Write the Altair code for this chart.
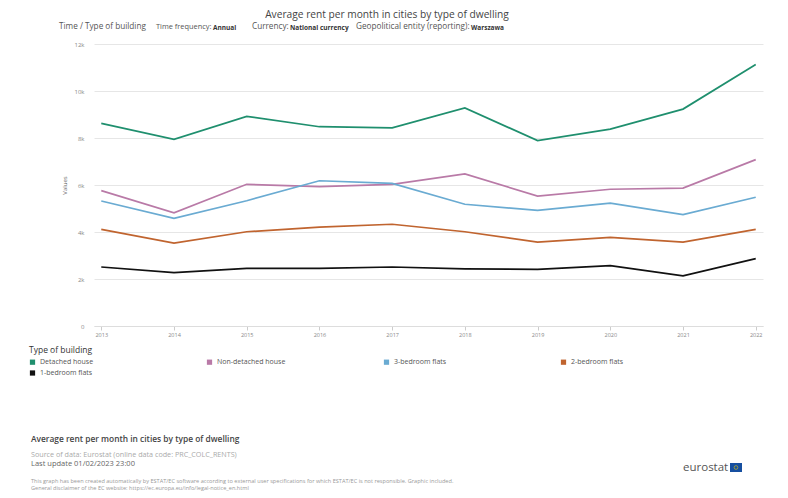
import altair as alt
import pandas as pd

years = ["2013", "2014", "2015", "2016", "2017", "2018", "2019", "2020", "2021", "2022"]
series_names = ["Detached house", "Non-detached house", "3-bedroom flats", "2-bedroom flats", "1-bedroom flats"]
series_colors = ["#1f8f6e", "#b97aa7", "#6aabd2", "#c0642f", "#111111"]
detached = [8620, 7940, 8920, 8480, 8430, 9280, 7890, 8380, 9230, 11130]
non_detached = [5760, 4820, 6030, 5930, 6030, 6470, 5530, 5820, 5870, 7080]
three_bed = [5320, 4580, 5330, 6180, 6070, 5180, 4920, 5230, 4740, 5480]
two_bed = [4110, 3530, 4010, 4210, 4330, 4010, 3570, 3770, 3570, 4110]
one_bed = [2510, 2270, 2450, 2450, 2510, 2430, 2410, 2570, 2130, 2870]
y_ticks = [0, 2000, 4000, 6000, 8000, 10000, 12000]

title_text = "Average rent per month in cities by type of dwelling"
subtitle_parts = [
    "Time / Type of building",
    "Time frequency:",
    "Annual",
    "Currency:",
    "National currency",
    "Geopolitical entity (reporting):",
    "Warszawa",
]
footer_title = "Average rent per month in cities by type of dwelling"
footer_source = "Source of data: Eurostat (online data code: PRC_COLC_RENTS)"
footer_update = "Last update 01/02/2023 23:00"
footer_disc1 = ("This graph has been created automatically by ESTAT/EC software according to external user "
                "specifications for which ESTAT/EC is not responsible. Graphic included.")
footer_disc2 = "General disclaimer of the EC website: https://ec.europa.eu/info/legal-notice_en.html"

rows = []
for name, vals in zip(series_names, [detached, non_detached, three_bed, two_bed, one_bed]):
    for yr, v in zip(years, vals):
        rows.append({"year": yr, "value": v, "series": name})
df = pd.DataFrame(rows)

FONT = "Open Sans"
PLOT_W, PLOT_H = 669, 282
OX, OY = 94, 44  # page position of plot origin
TOTAL_H = 483


def txt(text, px, py, size, color, weight="normal", align="left"):
    return alt.Chart(pd.DataFrame({"t": [text]})).mark_text(
        font=FONT, fontSize=size, color=color, fontWeight=weight,
        align=align, baseline="middle"
    ).encode(x=alt.value(px - OX), y=alt.value(py - OY), text="t:N")


lines = alt.Chart(df).mark_line(strokeWidth=1.7).encode(
    x=alt.X("year:O", sort=years,
            scale=alt.Scale(type="point", padding=0.1),
            axis=alt.Axis(title=None, labelAngle=0, labelFontSize=5.5, labelColor="#888",
                          labelFont=FONT, tickColor="#ccc", tickSize=4, domainColor="#ddd",
                          grid=False, labelPadding=2)),
    y=alt.Y("value:Q", scale=alt.Scale(domain=[0, 12000]),
            axis=alt.Axis(values=y_ticks, title="Values",
                          labelExpr="datum.value == 0 ? '0' : (datum.value / 1000) + 'k'",
                          labelFontSize=6, labelColor="#888", labelFont=FONT,
                          titleFont=FONT, titleFontSize=6, titleColor="#666",
                          titleFontWeight="normal", titleX=-27, titleY=141,
                          domain=False, ticks=False, gridColor="#e6e6e6",
                          labelPadding=10)),
    color=alt.Color("series:N", sort=series_names,
                    scale=alt.Scale(domain=series_names, range=series_colors),
                    legend=alt.Legend(orient="none", legendX=29 - OX, legendY=346 - OY,
                                      direction="horizontal",
                                      columns=4, gridAlign="all", columnPadding=93,
                                      rowPadding=-4, symbolType="square", symbolSize=5,
                                      symbolStrokeWidth=3, labelFontSize=7, labelColor="#555",
                                      labelFont=FONT, title="Type of building",
                                      titleFont=FONT, titleFontSize=8.5, titleColor="#333",
                                      titleFontWeight="normal", titlePadding=4,
                                      labelOffset=4)),
)

texts = [
    txt(title_text, 387, 14.5, 10.2, "#444", align="center"),
    txt(subtitle_parts[0], 59, 27, 8.2, "#555"),
    txt(subtitle_parts[1], 156, 27, 7.4, "#555"),
    txt(subtitle_parts[2], 213, 27.5, 6.5, "#333", "bold"),
    txt(subtitle_parts[3], 252, 27, 8.2, "#555"),
    txt(subtitle_parts[4], 290, 27.5, 6.5, "#333", "bold"),
    txt(subtitle_parts[5], 356, 27, 8.2, "#555"),
    txt(subtitle_parts[6], 471, 27.5, 6.5, "#333", "bold"),
    txt(footer_title, 31, 439, 8.4, "#444", 600),
    txt(footer_source, 31, 455, 7.2, "#aaa"),
    txt(footer_update, 31, 464, 7.5, "#666"),
    txt(footer_disc1, 31, 480.5, 5.6, "#999"),
    txt(footer_disc2, 31, 487.5, 5.6, "#999"),
    txt("eurostat", 683, 468, 11.5, "#555"),
]

flag = alt.Chart(pd.DataFrame({"a": [0]})).mark_rect(color="#164fa0").encode(
    x=alt.value(730 - OX), x2=alt.value(742 - OX), y=alt.value(463 - OY), y2=alt.value(472 - OY))
stars = alt.Chart(pd.DataFrame({"a": [0]})).mark_point(
    shape="circle", size=14, stroke="#f5d000", strokeWidth=0.8, filled=False).encode(
    x=alt.value(736 - OX), y=alt.value(467.5 - OY))

chart = alt.layer(lines, *texts, flag, stars).properties(
    width=PLOT_W, height=PLOT_H,
    autosize=alt.AutoSizeParams(type="none"),
    padding={"left": OX - 8, "top": OY - 8, "right": 772 - (OX - 8) - PLOT_W,
             "bottom": TOTAL_H - (OY - 8) - PLOT_H},
    background="white",
).configure_view(stroke=None)

chart.save("out.html", embed_options={"renderer": "svg", "actions": False})
